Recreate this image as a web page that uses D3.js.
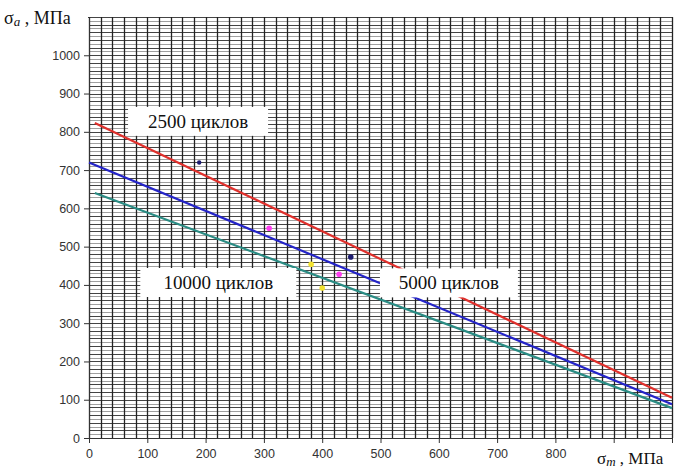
<!DOCTYPE html>
<html>
<head>
<meta charset="utf-8">
<script src="https://cdn.jsdelivr.net/npm/d3@7"></script>
<style>
  html, body { margin: 0; padding: 0; background: #fff; }
  svg { display: block; }
</style>
</head>
<body>
<svg id="chart" width="681" height="470"></svg>
<script>
// Limit-stress lines for three cycle counts (σm in MPa -> σa in MPa)
const series = ["2500 циклов", "5000 циклов", "10000 циклов"];
const lineStartX = [10, 0, 10];
const lineStartY = [823, 720, 640];
const lineEndX = [1000, 1000, 1000];
const lineEndY = [105, 88, 78];
const lineColors = ["#e0302c", "#2424c8", "#2a8c84"];

// Experimental points
const pointX = [189, 309, 449, 381, 429, 400];
const pointY = [720, 548, 473, 454, 428, 392];
const pointColors = ["#1c1c70", "#ff3cf0", "#1c1c70", "#f2e230", "#ff3cf0", "#f2e230"];

// Axis ticks (marks at every value, labels only up to the last labelled one)
const xTickValues = [0, 100, 200, 300, 400, 500, 600, 700, 800, 900, 1000];
const xLastLabel = 800;
const yTickValues = [0, 100, 200, 300, 400, 500, 600, 700, 800, 900, 1000];

// Curve labels: σm of the box's left edge, σa of its centre line
const labelText = ["2500 циклов", "10000 циклов", "5000 циклов"];
const labelX = [67, 88, 499];
const labelY = [826, 405, 404];
const labelW = [140, 156, 138];

const svg = d3.select("#chart");
const plotL = 89, plotR = 672, plotT = 17, plotB = 438;

const x = d3.scaleLinear().domain([0, 1000]).range([plotL, plotR]);
const y = d3.scaleLinear().domain([0, 1100]).range([plotB, plotT]);

// Dense grid
const grid = svg.append("g");
const hVals = d3.range(0, 1101, 10);
grid.selectAll("line.h").data(hVals).join("line")
  .attr("x1", plotL).attr("x2", plotR)
  .attr("y1", d => Math.round(y(d)) + 0.5).attr("y2", d => Math.round(y(d)) + 0.5)
  .attr("stroke", d => d % 20 === 0 ? "#444" : "#a0a0a0")
  .attr("stroke-width", 1);
const vVals = d3.range(0, 1001, 20);
grid.selectAll("line.v").data(vVals).join("line")
  .attr("y1", plotT).attr("y2", plotB)
  .attr("x1", d => Math.round(x(d)) + 0.5).attr("x2", d => Math.round(x(d)) + 0.5)
  .attr("stroke", "#222")
  .attr("stroke-width", 1.3);

// Axes
const xAxis = d3.axisBottom(x).tickValues(xTickValues)
  .tickFormat(d => d <= xLastLabel ? d3.format("d")(d) : "")
  .tickSize(5).tickPadding(6);
const yAxis = d3.axisLeft(y).tickValues(yTickValues)
  .tickFormat(d3.format("d"))
  .tickSize(5).tickPadding(4);

const gx = svg.append("g").attr("transform", `translate(0,${plotB})`).call(xAxis);
const gy = svg.append("g").attr("transform", `translate(${plotL},0)`).call(yAxis);
[gx, gy].forEach(g => {
  g.select(".domain").attr("stroke", "#333");
  g.selectAll(".tick line").attr("stroke", "#333");
  g.selectAll(".tick text")
    .attr("fill", "#333")
    .style("font-family", "'Liberation Sans', Arial, sans-serif")
    .style("font-size", "12.5px");
});

// Lines
const lineGen = d3.line().x(d => x(d[0])).y(d => y(d[1]));
series.forEach((s, i) => {
  svg.append("path")
    .datum([[lineStartX[i], lineStartY[i]], [lineEndX[i], lineEndY[i]]])
    .attr("d", lineGen)
    .attr("fill", "none")
    .attr("stroke", lineColors[i])
    .attr("stroke-width", 2.2);
});

// Points
svg.append("g").selectAll("circle").data(pointX).join("circle")
  .attr("cx", d => x(d))
  .attr("cy", (d, i) => y(pointY[i]))
  .attr("r", (d, i) => i === 0 ? 2.2 : 2.8)
  .attr("fill", (d, i) => pointColors[i]);

// Curve labels on white boxes
labelText.forEach((t, i) => {
  const bx = x(labelX[i]), cy = y(labelY[i]);
  svg.append("rect")
    .attr("x", bx).attr("y", cy - 15)
    .attr("width", labelW[i]).attr("height", 29)
    .attr("fill", "#fff");
  svg.append("text")
    .attr("x", bx + labelW[i] / 2).attr("y", cy + 6)
    .attr("text-anchor", "middle")
    .style("font-family", "'Liberation Serif', 'Times New Roman', serif")
    .style("font-size", "19px")
    .attr("fill", "#111")
    .text(t);
});

// Axis titles
svg.append("rect").attr("x", 0).attr("y", 0).attr("width", plotL - 1).attr("height", 30).attr("fill", "#fff");
const ty = svg.append("text").attr("x", 4).attr("y", 24)
  .style("font-family", "'Liberation Serif', 'Times New Roman', serif")
  .style("font-size", "18px").attr("fill", "#111");
ty.append("tspan").text("σ");
ty.append("tspan").attr("font-style", "italic").attr("font-size", "13px").attr("dy", 2).text("a");
ty.append("tspan").attr("dy", -2).text(" , МПа");

svg.append("rect").attr("x", 595).attr("y", 446).attr("width", 86).attr("height", 24).attr("fill", "#fff");
const tx = svg.append("text").attr("x", 597).attr("y", 464)
  .style("font-family", "'Liberation Serif', 'Times New Roman', serif")
  .style("font-size", "17px").attr("fill", "#111");
tx.append("tspan").text("σ");
tx.append("tspan").attr("font-style", "italic").attr("font-size", "13px").attr("dy", 2).text("m");
tx.append("tspan").attr("dy", -2).text(" , МПа");
</script>
</body>
</html>
